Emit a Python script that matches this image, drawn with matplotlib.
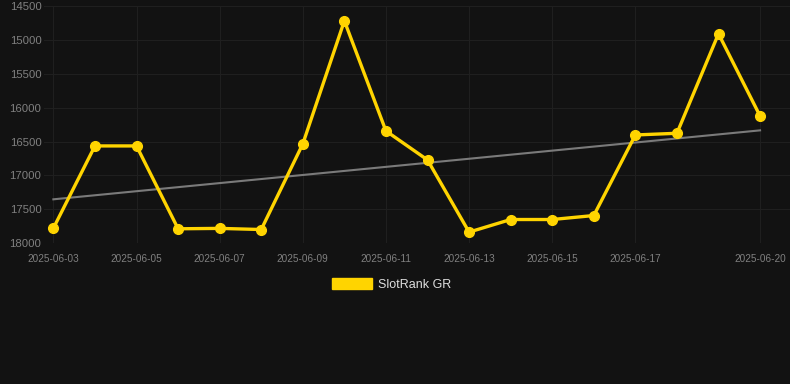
import numpy as np
import matplotlib.pyplot as plt
import matplotlib.dates as mdates
from matplotlib.patches import Patch

dates = ['2025-06-03', '2025-06-04', '2025-06-05', '2025-06-06', '2025-06-07', '2025-06-08',
         '2025-06-09', '2025-06-10', '2025-06-11', '2025-06-12', '2025-06-13', '2025-06-14',
         '2025-06-15', '2025-06-16', '2025-06-17', '2025-06-18', '2025-06-19', '2025-06-20']
rank = [17780, 16565, 16565, 17789, 17783, 17800, 16535, 14717, 16344, 16772,
        17838, 17652, 17652, 17593, 16403, 16378, 14908, 16123]
tick_dates = ['2025-06-03', '2025-06-05', '2025-06-07', '2025-06-09', '2025-06-11',
              '2025-06-13', '2025-06-15', '2025-06-17', '2025-06-20']
y_ticks = [14500, 15000, 15500, 16000, 16500, 17000, 17500, 18000]

plt.rcParams['font.family'] = ['Liberation Sans', 'DejaVu Sans']

bg = '#121212'
gold = '#ffd400'

x = mdates.datestr2num(dates)
xt = mdates.datestr2num(tick_dates)

fig = plt.figure(figsize=(7.9, 3.84), dpi=100, facecolor=bg)
ax = fig.add_axes([0.056, 0.367, 0.944, 0.617], facecolor=bg)

# trend line (least squares)
k, b = np.polyfit(x - x[0], rank, 1)
ax.plot(x, k * (x - x[0]) + b, color='#7a7a7a', lw=1.5, zorder=2)

ax.plot(x, rank, color=gold, lw=2.4, marker='o', markersize=7, zorder=3)

ax.set_xlim(x[0] - 0.22, x[-1] + 0.72)
ax.set_ylim(18000, 14500)
ax.set_yticks(y_ticks)
ax.set_yticklabels([str(v) for v in y_ticks])
ax.set_xticks(xt)
ax.set_xticklabels(tick_dates)
ax.tick_params(axis='both', length=0, colors='#808080', labelsize=8.2)
ax.tick_params(axis='x', pad=8, labelsize=7.2)
ax.tick_params(axis='y', pad=2)
ax.grid(True, color='#1f1f1f', lw=0.8)
for s in ax.spines.values():
    s.set_visible(False)

fig.legend(handles=[Patch(color=gold, label='SlotRank GR')], loc='center',
           bbox_to_anchor=(0.496, 0.26), frameon=False, fontsize=9,
           labelcolor='#dddddd', handlelength=3.2, handleheight=1.0, handletextpad=0.5)

fig.savefig('out.png', dpi=100, facecolor=bg)
